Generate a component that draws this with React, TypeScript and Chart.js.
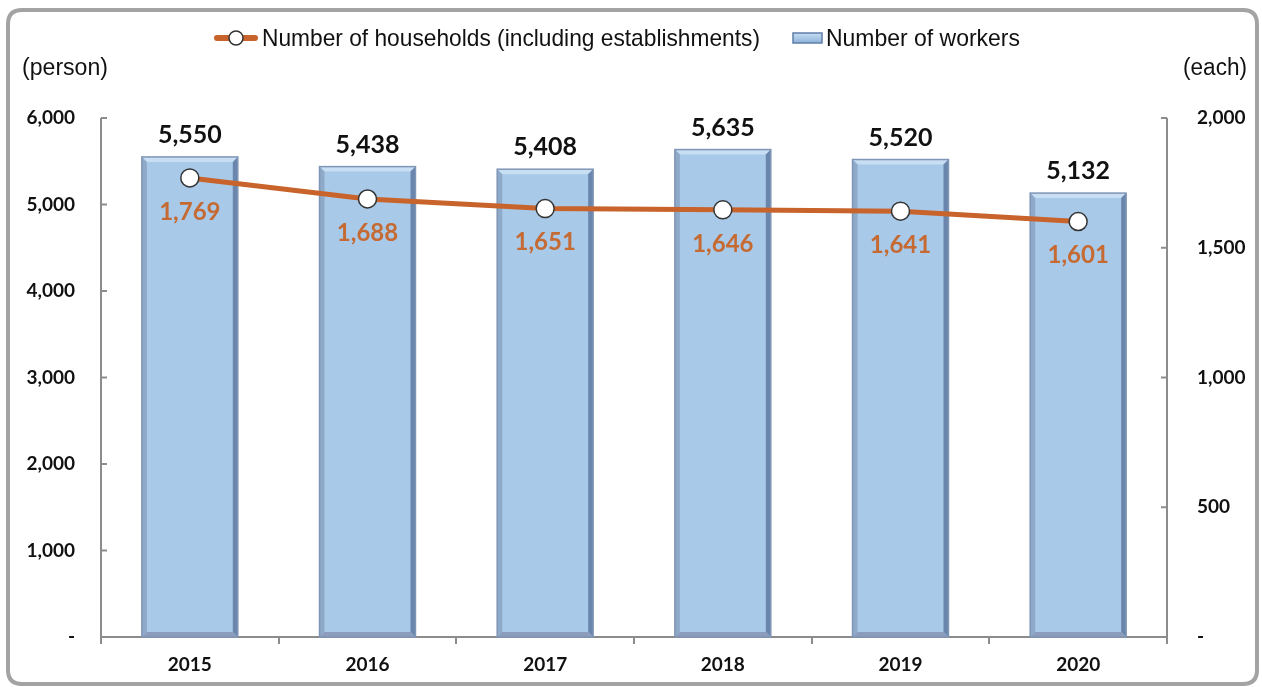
import React, { useEffect, useRef } from "react";
import { Chart, registerables } from "chart.js";

Chart.register(...registerables);

const categories = ["2015", "2016", "2017", "2018", "2019", "2020"];
const workers = [5550, 5438, 5408, 5635, 5520, 5132];
const households = [1769, 1688, 1651, 1646, 1641, 1601];
const leftTickLabels: Record<number, string> = { 0: "-", 1000: "1,000", 2000: "2,000", 3000: "3,000", 4000: "4,000", 5000: "5,000", 6000: "6,000" };
const rightTickLabels: Record<number, string> = { 0: "-", 500: "500", 1000: "1,000", 1500: "1,500", 2000: "2,000" };
const legendLine = "Number of households (including establishments)";
const legendBar = "Number of workers";
const leftUnit = "(person)";
const rightUnit = "(each)";

const ORANGE = "#C8642B";
const LABEL_ORANGE = "#C56A32";
const BAR_FILL = "#A9C9E9";
const BAR_EDGE = "#7F95B5";
const TICK_FONT = "Lato";

function fmt(n: number) {
  return n.toLocaleString("en-US");
}

const decorPlugin = {
  id: "decor",
  beforeDraw(chart: any) {
    const ctx = chart.ctx;
    ctx.save();
    ctx.fillStyle = "#fff";
    ctx.fillRect(0, 0, chart.width, chart.height);
    ctx.strokeStyle = "#A3A3A3";
    ctx.lineWidth = 4;
    const x = 8, y = 10, w = 1249, h = 674;
    const r = 14;
    ctx.beginPath();
    ctx.moveTo(x + r, y);
    ctx.lineTo(x + w - r, y);
    ctx.quadraticCurveTo(x + w, y, x + w, y + r);
    ctx.lineTo(x + w, y + h - r);
    ctx.quadraticCurveTo(x + w, y + h, x + w - r, y + h);
    ctx.lineTo(x + r, y + h);
    ctx.quadraticCurveTo(x, y + h, x, y + h - r);
    ctx.lineTo(x, y + r);
    ctx.quadraticCurveTo(x, y, x + r, y);
    ctx.stroke();
    ctx.restore();
  },
  afterDatasetsDraw(chart: any) {
    const ctx = chart.ctx;
    const area = chart.chartArea;
    ctx.save();
    const yL = chart.scales.y;
    const yR = chart.scales.y1;
    ctx.strokeStyle = "#8C8C8C";
    ctx.lineWidth = 2;
    yL.ticks.forEach((t: any) => {
      const py = yL.getPixelForValue(t.value);
      ctx.beginPath();
      ctx.moveTo(area.left, py);
      ctx.lineTo(area.left + 6, py);
      ctx.stroke();
    });
    yR.ticks.forEach((t: any) => {
      const py = yR.getPixelForValue(t.value);
      ctx.beginPath();
      ctx.moveTo(area.right, py);
      ctx.lineTo(area.right - 6, py);
      ctx.stroke();
    });
    ctx.beginPath();
    ctx.moveTo(area.left, area.top);
    ctx.lineTo(area.left, area.bottom);
    ctx.moveTo(area.right, area.top);
    ctx.lineTo(area.right, area.bottom);
    ctx.stroke();

    const barMeta = chart.getDatasetMeta(1);
    ctx.font = `bold 25px ${TICK_FONT}`;
    ctx.fillStyle = "#111";
    ctx.textAlign = "center";
    ctx.textBaseline = "middle";
    barMeta.data.forEach((el: any, i: number) => {
      ctx.fillText(fmt(workers[i]), el.x, el.y - 22);
    });
    const lineMeta = chart.getDatasetMeta(0);
    ctx.font = `bold 24px ${TICK_FONT}`;
    ctx.fillStyle = LABEL_ORANGE;
    lineMeta.data.forEach((el: any, i: number) => {
      ctx.fillText(fmt(households[i]), el.x, el.y + 34);
    });
    ctx.restore();
  },
  afterDraw(chart: any) {
    const ctx = chart.ctx;
    ctx.save();
    ctx.font = "24px 'Liberation Sans', Arial, sans-serif";
    ctx.fillStyle = "#111";
    ctx.textBaseline = "middle";
    ctx.textAlign = "left";
    const ly = 38;
    let x = 217;
    ctx.strokeStyle = ORANGE;
    ctx.lineWidth = 6;
    ctx.lineCap = "round";
    ctx.beginPath();
    ctx.moveTo(x, ly);
    ctx.lineTo(x + 38, ly);
    ctx.stroke();
    ctx.lineCap = "butt";
    ctx.beginPath();
    ctx.arc(x + 19, ly, 7, 0, Math.PI * 2);
    ctx.fillStyle = "#fff";
    ctx.fill();
    ctx.lineWidth = 1.5;
    ctx.strokeStyle = "#333";
    ctx.stroke();
    ctx.fillStyle = "#111";
    const w1 = ctx.measureText(legendLine).width;
    ctx.save();
    ctx.translate(262, ly);
    ctx.scale(498 / w1, 1);
    ctx.fillText(legendLine, 0, 1);
    ctx.restore();
    x = 793;
    const grad = ctx.createLinearGradient(0, ly - 5, 0, ly + 5);
    grad.addColorStop(0, "#C6DDF3");
    grad.addColorStop(1, "#8FB2D9");
    ctx.fillStyle = grad;
    ctx.fillRect(x, ly - 5, 29, 10);
    ctx.strokeStyle = "#5F7FA8";
    ctx.lineWidth = 1.5;
    ctx.strokeRect(x, ly - 5, 29, 10);
    ctx.fillStyle = "#111";
    const w2 = ctx.measureText(legendBar).width;
    ctx.save();
    ctx.translate(826, ly);
    ctx.scale(194 / w2, 1);
    ctx.fillText(legendBar, 0, 1);
    ctx.restore();
    ctx.font = "23px 'Liberation Sans', Arial, sans-serif";
    ctx.textAlign = "left";
    const wu = ctx.measureText(leftUnit).width;
    ctx.save();
    ctx.translate(22, 69);
    ctx.scale(86 / wu, 1);
    ctx.fillText(leftUnit, 0, 0);
    ctx.restore();
    const we = ctx.measureText(rightUnit).width;
    ctx.save();
    ctx.translate(1183, 69);
    ctx.scale(64 / we, 1);
    ctx.fillText(rightUnit, 0, 0);
    ctx.restore();
    ctx.restore();
  },
};

const bevelPlugin = {
  id: "bevel",
  afterDatasetDraw(chart: any, args: any) {
    if (args.index !== 1) return;
    const ctx = chart.ctx;
    const meta = chart.getDatasetMeta(1);
    ctx.save();
    meta.data.forEach((el: any) => {
      const l = el.x - el.width / 2;
      const r = el.x + el.width / 2;
      const t = el.y;
      const b = el.base;
      const e = 5;
      const poly = (pts: number[][], c: string) => {
        ctx.fillStyle = c;
        ctx.beginPath();
        ctx.moveTo(pts[0][0], pts[0][1]);
        for (let k = 1; k < pts.length; k++) ctx.lineTo(pts[k][0], pts[k][1]);
        ctx.closePath();
        ctx.fill();
      };
      poly([[l, t], [r, t], [r - e, t + e], [l + e, t + e]], "#C8DEF3");
      poly([[l, t], [l + e, t + e], [l + e, b - e], [l, b]], "#8FA9C8");
      poly([[r, t], [r, b], [r - e, b - e], [r - e, t + e]], "#6A86AC");
      poly([[l, b], [l + e, b - e], [r - e, b - e], [r, b]], "#8C9CBC");
      ctx.strokeStyle = BAR_EDGE;
      ctx.lineWidth = 1.5;
      ctx.strokeRect(l, t, r - l, b - t);
    });
    ctx.restore();
  },
};

export default function App() {
  const ref = useRef<HTMLCanvasElement | null>(null);
  useEffect(() => {
    if (!ref.current) return;
    const chart = new Chart(ref.current, {
      type: "bar",
      data: {
        labels: categories,
        datasets: [
          {
            type: "line",
            label: legendLine,
            data: households,
            yAxisID: "y1",
            borderColor: ORANGE,
            borderWidth: 5,
            pointRadius: 9,
            pointBackgroundColor: "#fff",
            pointBorderColor: "#333",
            pointBorderWidth: 1.5,
            tension: 0,
            order: 0,
          } as any,
          {
            type: "bar",
            label: legendBar,
            data: workers,
            yAxisID: "y",
            backgroundColor: BAR_FILL,
            borderWidth: 0,
            categoryPercentage: 1,
            barPercentage: 0.54,
            order: 1,
          },
        ],
      },
      options: {
        animation: false,
        responsive: false,
        maintainAspectRatio: false,
        layout: { padding: { left: 10, right: 10, top: 118, bottom: 10 } },
        plugins: { legend: { display: false }, tooltip: { enabled: false } },
        scales: {
          x: {
            offset: true,
            grid: { display: true, offset: true, drawOnChartArea: false, drawTicks: true, tickLength: 7, color: "#8C8C8C", lineWidth: 2 },
            border: { display: true, color: "#8C8C8C", width: 2 },
            ticks: { font: { family: TICK_FONT, size: 19, weight: "bold" }, color: "#111", padding: 9 },
            afterFit(s: any) { s.height = 40; },
          },
          y: {
            position: "left",
            min: 0,
            max: 6000,
            ticks: {
              stepSize: 1000,
              font: { family: TICK_FONT, size: 19, weight: "bold" },
              color: "#111",
              padding: 18,
              callback: (v: any) => leftTickLabels[v as number] ?? "",
            },
            grid: { display: false },
            border: { display: false },
            afterFit(s: any) { s.width = 91; },
          },
          y1: {
            position: "right",
            min: 0,
            max: 2000,
            ticks: {
              stepSize: 500,
              font: { family: TICK_FONT, size: 19, weight: "bold" },
              color: "#111",
              padding: 22,
              callback: (v: any) => rightTickLabels[v as number] ?? "",
            },
            grid: { display: false },
            border: { display: false },
            afterFit(s: any) { s.width = 85; },
          },
        },
      },
      plugins: [decorPlugin, bevelPlugin],
    });
    return () => chart.destroy();
  }, []);
  return (
    <div style={{ position: "absolute", left: 0, top: 0, width: 1262, height: 687 }}>
      <canvas ref={ref} width={1262} height={687} style={{ display: "block" }} />
    </div>
  );
}
